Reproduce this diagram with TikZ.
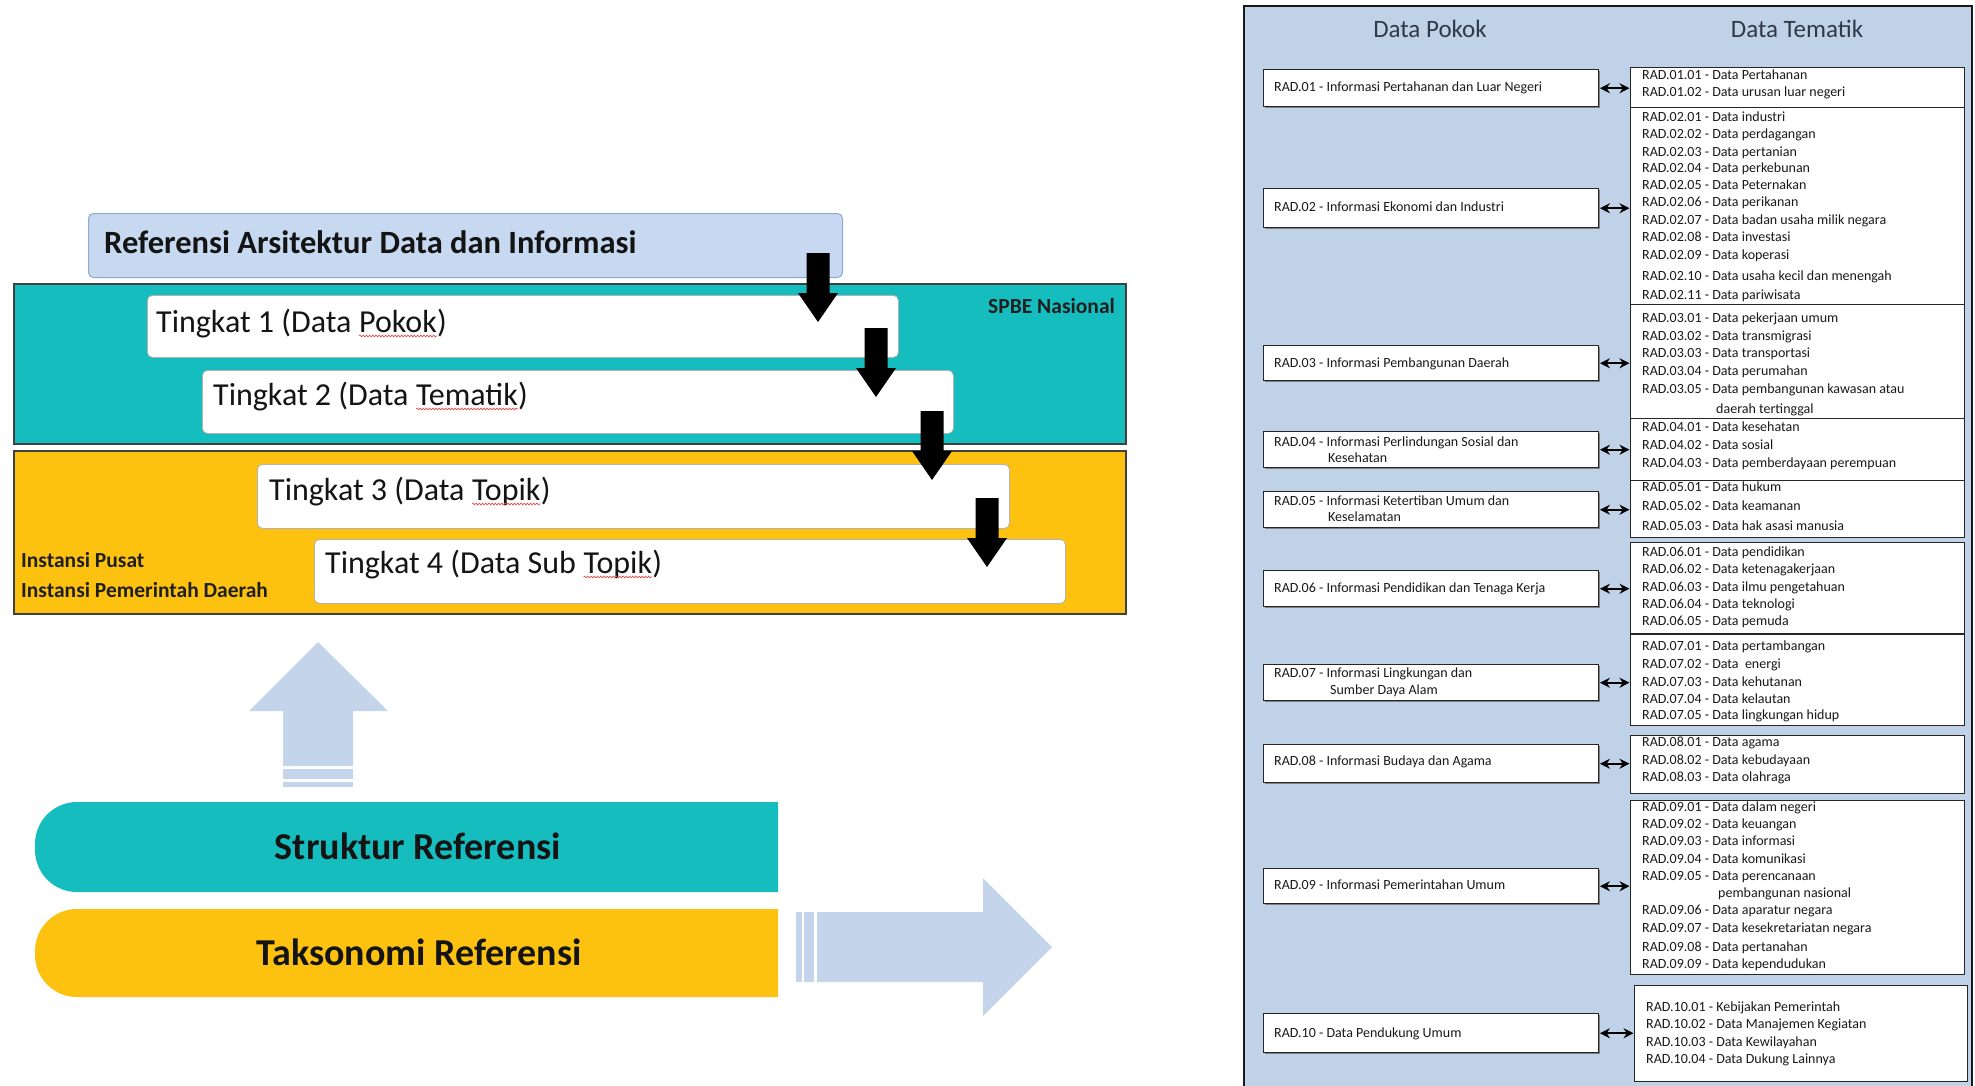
\documentclass[tikz,border=0pt]{standalone}
\usepackage{fontspec}
\setmainfont{Carlito}
\usetikzlibrary{arrows.meta,decorations.pathmorphing,shadows,calc}

\definecolor{tealband}{HTML}{15BDBF}
\definecolor{yellowband}{HTML}{FDC20F}
\definecolor{paleblue}{HTML}{C4D4EA}
\definecolor{panelblue}{HTML}{C0D2E8}
\definecolor{titlefill}{HTML}{C6D9F0}
\definecolor{titleedge}{HTML}{8DA8CB}
\definecolor{headgray}{HTML}{2E3A48}
\definecolor{spellred}{HTML}{E0403A}

\begin{document}
\begin{tikzpicture}[x=1pt,y=-1pt,
  bandbox/.style={draw=black!75, line width=1.6, anchor=north west, inner sep=0, minimum width=1112},
  tierbox/.style={draw=black!30, fill=white, rounded corners=5, line width=0.8, anchor=north west, inner sep=0, minimum width=751},
  tiertext/.style={anchor=base west, inner sep=0, font=\fontsize{32}{36}\selectfont, text=black!92},
  boldlabel/.style={anchor=base west, inner sep=0, font=\bfseries\fontsize{21.5}{24}\selectfont, text=black!88},
  pillbox/.style={anchor=base, inner sep=0, font=\bfseries\fontsize{38}{42}\selectfont, text=black!92},
  pokokbox/.style={draw=black!85, fill=white, line width=1.4, anchor=north west, inner sep=0, minimum width=335,
    drop shadow={shadow xshift=1.3pt, shadow yshift=-1.3pt, fill=black!50, opacity=1}},
  temabox/.style={draw=black!85, fill=white, line width=1.3, anchor=north west, inner sep=0, minimum width=334},
  rowtext/.style={anchor=base west, inner sep=0, font=\fontsize{14}{17}\selectfont, text=black!90},
  headtext/.style={anchor=base, inner sep=0, font=\fontsize{25}{28}\selectfont, text=headgray},
  dbl/.style={{Stealth[length=10pt,width=10pt]}-{Stealth[length=10pt,width=10pt]}, line width=2.4, shorten <=0.5pt, shorten >=0.5pt},
  squiggle/.style={spellred, line width=0.6, decorate, decoration={snake, amplitude=0.9pt, segment length=3.2pt}},
  downarrow/.pic={\fill[black] (-11.5,0) -- (11.5,0) -- (11.5,40) -- (20,40) -- (0,69) -- (-20,40) -- (-11.5,40) -- cycle;}
]
\useasboundingbox (0,0) rectangle (1975,1085);
\def\wordgap{7.25}% interword space of the 32pt caption font

% ---------- layered reference structure ----------
\node[draw=titleedge, fill=titlefill, line width=1, rounded corners=5, anchor=north west, inner sep=0,
      minimum width=754, minimum height=64] (ratitle) at (88,213) {};
\node[anchor=base west, inner sep=0, font=\bfseries\fontsize{32.5}{36}\selectfont, text=black!92]
      (ratitletext) at (104,253) {Referensi Arsitektur Data dan Informasi};

\node[bandbox, fill=tealband, minimum height=160] (spbe) at (13,283) {};
\node[bandbox, fill=yellowband, minimum height=163] (instansi) at (13,450) {};

\node[tierbox, minimum height=62] (tier1) at (147,295) {};
\node[tierbox, minimum height=63] (tier2) at (202,370) {};
\node[tierbox, minimum height=64, minimum width=752] (tier3) at (257,464) {};
\node[tierbox, minimum height=64] (tier4) at (314,539) {};

% tier captions, with the spell-check underline under the flagged word
\node[tiertext] (t1a) at (156,332) {Tingkat 1 (Data};
\node[tiertext] (t1b) at ($(t1a.base east)+(\wordgap,0)$) {Pokok};
\node[tiertext] (t1c) at (t1b.base east) {)};
\node[tiertext] (t2a) at (213,405) {Tingkat 2 (Data};
\node[tiertext] (t2b) at ($(t2a.base east)+(\wordgap,0)$) {Tematik};
\node[tiertext] (t2c) at (t2b.base east) {)};
\node[tiertext] (t3a) at (269,500) {Tingkat 3 (Data};
\node[tiertext] (t3b) at ($(t3a.base east)+(\wordgap,0)$) {Topik};
\node[tiertext] (t3c) at (t3b.base east) {)};
\node[tiertext] (t4a) at (325,573) {Tingkat 4 (Data Sub};
\node[tiertext] (t4b) at ($(t4a.base east)+(\wordgap,0)$) {Topik};
\node[tiertext] (t4c) at (t4b.base east) {)};
\foreach \w in {t1b,t2b,t3b,t4b}
  \draw[squiggle] ($(\w.base west)+(0,4)$) -- ($(\w.base east)+(0,4)$);

\node[boldlabel] (spbelabel) at (988,313) {SPBE Nasional};
\node[boldlabel] (pusat) at (21,567) {Instansi Pusat};
\node[boldlabel] (daerah) at (21,597) {Instansi Pemerintah Daerah};

% downward block arrows between levels
\pic at (818,253) {downarrow};
\pic at (876,328) {downarrow};
\pic at (932,411) {downarrow};
\pic at (987,498) {downarrow};

% ---------- structure / taxonomy bars ----------
\fill[paleblue] (318,642) -- (388,711) -- (353,711) -- (353,766) -- (283,766) -- (283,711) -- (249,711) -- cycle;
\fill[paleblue] (283,769) rectangle (353,779);
\fill[paleblue] (283,782) rectangle (353,787);

\fill[tealband] (778,802) [rounded corners=42] -- (35,802) -- (35,892) [sharp corners] -- (778,892) -- cycle;
\fill[yellowband] (778,909) [rounded corners=42] -- (35,909) -- (35,997) [sharp corners] -- (778,997) -- cycle;
\node[pillbox] (struktur) at (418,859) {Struktur Referensi};
\node[pillbox] (taksonomi) at (419,965) {Taksonomi Referensi};

\fill[paleblue] (796,912) rectangle (802,982);
\fill[paleblue] (804,912) rectangle (814,982);
\fill[paleblue] (817,912) -- (983,912) -- (983,878) -- (1052,947) -- (983,1016) -- (983,982) -- (817,982) -- cycle;

% ---------- Data Pokok / Data Tematik table ----------
\node[fill=panelblue, anchor=north west, inner sep=0, minimum width=728, minimum height=1090] (panel) at (1244,6) {};
\draw[line width=1.8, black!90] (1244,1095) -- (1244,6) -- (1972,6) -- (1972,1095);

\node[headtext] (hpokok) at (1430,37) {Data Pokok};
\node[headtext] (htematik) at (1797,37) {Data Tematik};

% thematic boxes
\node[temabox, minimum height=40] (K1) at (1630,67) {};
\node[temabox, minimum height=197] (K2) at (1630,107) {};
\node[temabox, minimum height=114] (K3) at (1630,304) {};
\node[temabox, minimum height=62] (K4) at (1630,418) {};
\node[temabox, minimum height=57] (K5) at (1630,480) {};
\node[temabox, minimum height=91] (K6) at (1630,542) {};
\node[temabox, minimum height=91] (K7) at (1630,634) {};
\node[temabox, minimum height=58] (K8) at (1630,735) {};
\node[temabox, minimum height=174] (K9) at (1630,800) {};
\node[temabox, minimum height=96, minimum width=333] (K10) at (1634,985) {};

% core data boxes
\node[pokokbox, minimum height=37] (P1) at (1263,69) {};
\node[pokokbox, minimum height=39] (P2) at (1263,188) {};
\node[pokokbox, minimum height=35] (P3) at (1263,345) {};
\node[pokokbox, minimum height=36] (P4) at (1263,431) {};
\node[pokokbox, minimum height=36] (P5) at (1263,491) {};
\node[pokokbox, minimum height=36] (P6) at (1263,570) {};
\node[pokokbox, minimum height=36] (P7) at (1263,664) {};
\node[pokokbox, minimum height=38] (P8) at (1263,744) {};
\node[pokokbox, minimum height=35] (P9) at (1263,868) {};
\node[pokokbox, minimum height=39] (P10) at (1263,1013) {};

\foreach \i in {1,...,10}
  \draw[dbl] (P\i.east) -- (P\i.east -| K\i.west);

% core data captions
\node[rowtext] (p1t) at (1274,91) {RAD.01 - Informasi Pertahanan dan Luar Negeri};
\node[rowtext] (p2t) at (1274,211) {RAD.02 - Informasi Ekonomi dan Industri};
\node[rowtext] (p3t) at (1274,367) {RAD.03 - Informasi Pembangunan Daerah};
\node[rowtext] (p4t) at (1274,446) {RAD.04 - Informasi Perlindungan Sosial dan};
\node[rowtext] (p4u) at (1328,462) {Kesehatan};
\node[rowtext] (p5t) at (1274,505) {RAD.05 - Informasi Ketertiban Umum dan};
\node[rowtext] (p5u) at (1328,521) {Keselamatan};
\node[rowtext] (p6t) at (1274,592) {RAD.06 - Informasi Pendidikan dan Tenaga Kerja};
\node[rowtext] (p7t) at (1274,677) {RAD.07 - Informasi Lingkungan dan};
\node[rowtext] (p7u) at (1330,694) {Sumber Daya Alam};
\node[rowtext] (p8t) at (1274,765) {RAD.08 - Informasi Budaya dan Agama};
\node[rowtext] (p9t) at (1274,889) {RAD.09 - Informasi Pemerintahan Umum};
\node[rowtext] (p10t) at (1274,1037) {RAD.10 - Data Pendukung Umum};

% thematic data rows
\foreach \y/\t [count=\n] in {
   79/{RAD.01.01 - Data Pertahanan},
   96/{RAD.01.02 - Data urusan luar negeri},
  121/{RAD.02.01 - Data industri},
  138/{RAD.02.02 - Data perdagangan},
  156/{RAD.02.03 - Data pertanian},
  172/{RAD.02.04 - Data perkebunan},
  189/{RAD.02.05 - Data Peternakan},
  206/{RAD.02.06 - Data perikanan},
  224/{RAD.02.07 - Data badan usaha milik negara},
  241/{RAD.02.08 - Data investasi},
  259/{RAD.02.09 - Data koperasi},
  280/{RAD.02.10 - Data usaha kecil dan menengah},
  299/{RAD.02.11 - Data pariwisata},
  322/{RAD.03.01 - Data pekerjaan umum},
  340/{RAD.03.02 - Data transmigrasi},
  357/{RAD.03.03 - Data transportasi},
  375/{RAD.03.04 - Data perumahan},
  393/{RAD.03.05 - Data pembangunan kawasan atau},
  431/{RAD.04.01 - Data kesehatan},
  449/{RAD.04.02 - Data sosial},
  467/{RAD.04.03 - Data pemberdayaan perempuan},
  491/{RAD.05.01 - Data hukum},
  510/{RAD.05.02 - Data keamanan},
  530/{RAD.05.03 - Data hak asasi manusia},
  556/{RAD.06.01 - Data pendidikan},
  573/{RAD.06.02 - Data ketenagakerjaan},
  591/{RAD.06.03 - Data ilmu pengetahuan},
  608/{RAD.06.04 - Data teknologi},
  625/{RAD.06.05 - Data pemuda},
  650/{RAD.07.01 - Data pertambangan},
  668/{RAD.07.02 - Data\ \ energi},
  686/{RAD.07.03 - Data kehutanan},
  703/{RAD.07.04 - Data kelautan},
  719/{RAD.07.05 - Data lingkungan hidup},
  746/{RAD.08.01 - Data agama},
  764/{RAD.08.02 - Data kebudayaan},
  781/{RAD.08.03 - Data olahraga},
  811/{RAD.09.01 - Data dalam negeri},
  828/{RAD.09.02 - Data keuangan},
  845/{RAD.09.03 - Data informasi},
  863/{RAD.09.04 - Data komunikasi},
  880/{RAD.09.05 - Data perencanaan},
  914/{RAD.09.06 - Data aparatur negara},
  932/{RAD.09.07 - Data kesekretariatan negara},
  951/{RAD.09.08 - Data pertanahan},
  968/{RAD.09.09 - Data kependudukan}}
  \node[rowtext] (row\n) at (1642,\y) {\t};

\node[rowtext] (row3x) at (1716,413) {daerah tertinggal};
\node[rowtext] (row9x) at (1718,897) {pembangunan nasional};

\node[rowtext] (r101) at (1646,1011) {RAD.10.01 - Kebijakan Pemerintah};
\node[rowtext] (r102) at (1646,1028) {RAD.10.02 - Data Manajemen Kegiatan};
\node[rowtext] (r103) at (1646,1046) {RAD.10.03 - Data Kewilayahan};
\node[rowtext] (r104) at (1646,1063) {RAD.10.04 - Data Dukung Lainnya};
\end{tikzpicture}
\end{document}
